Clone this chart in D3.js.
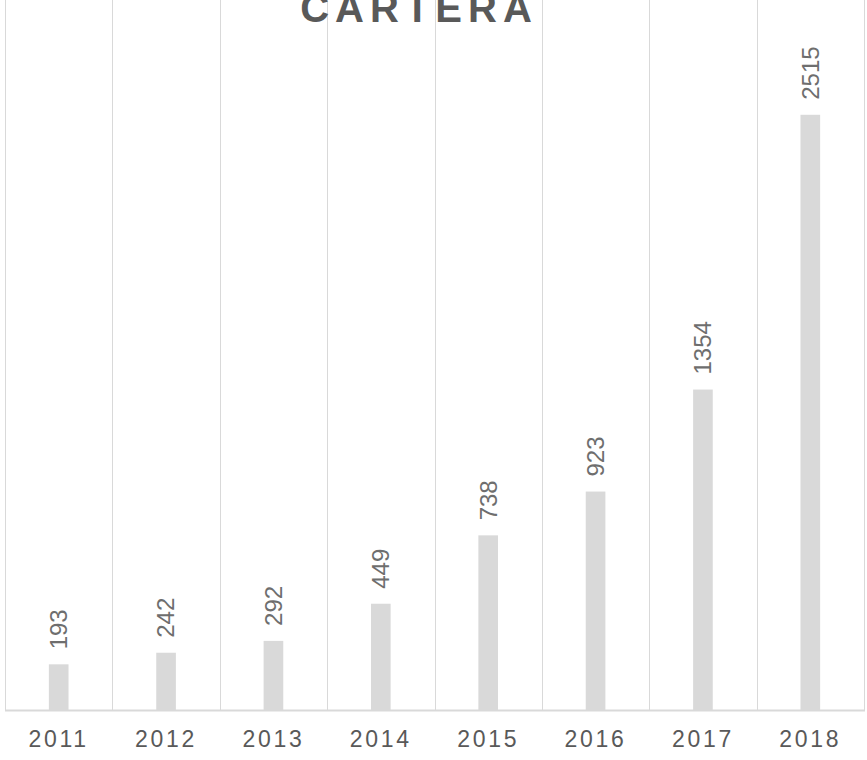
<!DOCTYPE html>
<html>
<head>
<meta charset="utf-8">
<script src="https://cdn.jsdelivr.net/npm/d3@7"></script>
<style>
  html, body { margin: 0; padding: 0; background: #ffffff; }
  svg { display: block; }
</style>
</head>
<body>
<svg id="chart" width="867" height="760"></svg>
<script>
const title = "CARTERA";
const categories = ["2011", "2012", "2013", "2014", "2015", "2016", "2017", "2018"];
const values = [193, 242, 292, 449, 738, 923, 1354, 2515];
const yDomain = [0, 3000];

const svg = d3.select("#chart");
const plot = { left: 5, right: 864, top: 0, bottom: 710 };

const x = d3.scaleBand().domain(categories).range([plot.left, plot.right]).padding(0);
const y = d3.scaleLinear().domain(yDomain).range([plot.bottom, plot.top]);
const barW = x.bandwidth() * 0.183;

// vertical gridlines at category boundaries
const bounds = categories.map(c => x(c)).concat([x(categories[categories.length - 1]) + x.bandwidth()]);
svg.append("g").selectAll("line").data(bounds).join("line")
  .attr("x1", d => Math.round(d) + 0.5).attr("x2", d => Math.round(d) + 0.5)
  .attr("y1", plot.top).attr("y2", plot.bottom)
  .attr("stroke", "#d9d9d9").attr("stroke-width", 1);

// bars
svg.append("g").selectAll("rect").data(values).join("rect")
  .attr("x", (d, i) => x(categories[i]) + x.bandwidth() / 2 - barW / 2)
  .attr("y", d => y(d))
  .attr("width", barW)
  .attr("height", d => y(0) - y(d))
  .attr("fill", "#d9d9d9");

// baseline
svg.append("line")
  .attr("x1", plot.left).attr("x2", plot.right + 1)
  .attr("y1", plot.bottom + 0.5).attr("y2", plot.bottom + 0.5)
  .attr("stroke", "#d9d9d9").attr("stroke-width", 2);

// value labels (rotated)
svg.append("g").selectAll("text").data(values).join("text")
  .attr("transform", (d, i) => `translate(${x(categories[i]) + x.bandwidth() / 2},${y(d) - 15}) rotate(-90)`)
  .attr("dy", "0.35em")
  .attr("text-anchor", "start")
  .attr("font-family", "Liberation Sans, Arial, sans-serif")
  .attr("font-size", 24)
  .attr("fill", "#6e6e6e")
  .text(d => d);

// x axis labels
const xAxis = d3.axisBottom(x).tickSize(0).tickPadding(0);
const gx = svg.append("g").attr("transform", `translate(0,${plot.bottom})`).call(xAxis);
gx.select(".domain").remove();
gx.selectAll("text")
  .attr("y", 37)
  .attr("dy", 0)
  .attr("dx", 0)
  .attr("font-family", "Liberation Sans, Arial, sans-serif")
  .attr("font-size", 23)
  .attr("letter-spacing", 2.7)
  .attr("fill", "#595959");

// title
svg.append("text")
  .attr("x", 419)
  .attr("y", 22)
  .attr("text-anchor", "middle")
  .attr("font-family", "Liberation Sans, Arial, sans-serif")
  .attr("font-weight", "bold")
  .attr("font-size", 40)
  .attr("letter-spacing", 6)
  .attr("fill", "#595959")
  .text(title);
</script>
</body>
</html>
